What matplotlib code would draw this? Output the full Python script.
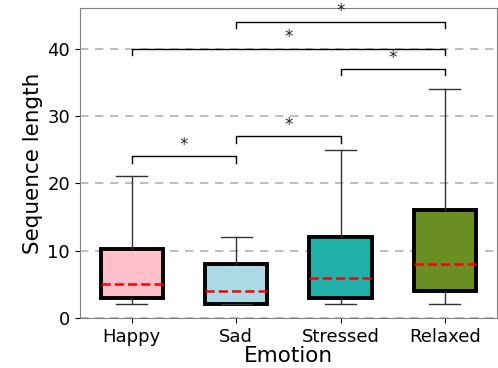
import matplotlib
matplotlib.use("Agg")
import matplotlib.pyplot as plt

emotions = ["Happy", "Sad", "Stressed", "Relaxed"]
colors = ["pink", "lightblue", "lightseagreen", "olivedrab"]

# five-number summaries per emotion
whislo = [2, 2, 2, 2]
q1 = [3, 2, 3, 4]
med = [5, 4, 6, 8]
q3 = [10.3, 8, 12, 16]
whishi = [21, 12, 25, 34]

# significant pairs (1-based positions) and bracket heights
pairs = [(1, 2), (2, 3), (3, 4), (1, 4), (2, 4)]
bracket_y = [24, 27, 37, 40, 44]

stats = []
for i in range(len(emotions)):
    stats.append({"whislo": whislo[i], "q1": q1[i], "med": med[i],
                  "q3": q3[i], "whishi": whishi[i], "fliers": [],
                  "label": emotions[i]})

fig, ax = plt.subplots(figsize=(4.98, 3.68), dpi=100)
bp = ax.bxp(stats, widths=0.6, patch_artist=True, showfliers=False,
            boxprops=dict(linewidth=2.8, edgecolor="black"),
            medianprops=dict(color="red", linestyle="--", linewidth=1.8),
            whiskerprops=dict(color="#333333", linewidth=1),
            capprops=dict(color="#333333", linewidth=1))
for patch, c in zip(bp["boxes"], colors):
    patch.set_facecolor(c)

for (a, b), y in zip(pairs, bracket_y):
    ax.plot([a, a, b, b], [y - 1, y, y, y - 1], color="black", linewidth=1)
    ax.text((a + b) / 2, y + 0.3, "*", ha="center", va="bottom", fontsize=12, color="#222222")

ax.set_ylim(0, 46)
ax.set_yticks([0, 10, 20, 30, 40])
ax.yaxis.grid(True, linestyle=(0, (5, 4)), color="gray", alpha=0.6, linewidth=1.2)
ax.set_axisbelow(True)
ax.tick_params(labelsize=13)
ax.set_xlabel("Emotion", fontsize=15.5, labelpad=0)
ax.set_ylabel("Sequence length", fontsize=15.5, labelpad=3)
for s in ax.spines.values():
    s.set_color("gray")

fig.subplots_adjust(left=0.16, right=0.998, top=0.978, bottom=0.136)
fig.savefig("out.png")
